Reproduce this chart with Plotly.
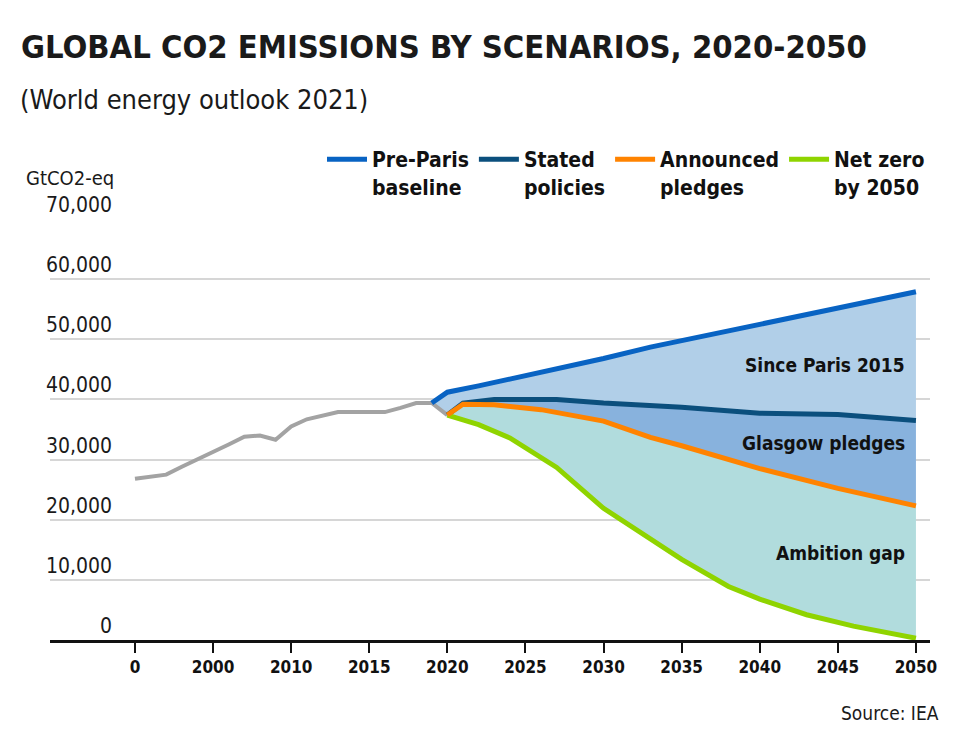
import plotly.graph_objects as go

# ---------------- data ----------------
hist_years = list(range(2000, 2021))
hist_vals = [26800, 27100, 27500, 28800, 30000, 31200, 32500, 33800, 34000, 33300,
             35500, 36700, 37300, 37900, 37900, 37900, 37900, 38600, 39400, 39400, 37400]

prep_years = [2019, 2020, 2022, 2025, 2028, 2030, 2033, 2035, 2040, 2045, 2050]
prep_vals = [39400, 41200, 42250, 43900, 45500, 46800, 48700, 49800, 52500, 55200, 57900]

stated_years = [2020, 2021, 2023, 2027, 2030, 2035, 2040, 2045, 2050]
stated_vals = [37400, 39400, 40000, 40000, 39400, 38700, 37700, 37500, 36500]

announced_years = [2020, 2021, 2023, 2026, 2030, 2033, 2035, 2040, 2045, 2050]
announced_vals = [37400, 39200, 39100, 38300, 36400, 33700, 32300, 28500, 25200, 22300]

netzero_years = [2020, 2022, 2024, 2027, 2030, 2035, 2038, 2040, 2043, 2046, 2050]
netzero_vals = [37400, 35800, 33600, 28700, 21900, 13400, 8900, 6800, 4200, 2300, 300]

x_tickvals = [2000, 2005, 2010, 2015, 2020, 2025, 2030, 2035, 2040, 2045, 2050]
x_ticktext = ["0", "2000", "2010", "2015", "2020", "2025", "2030", "2035", "2040", "2045", "2050"]
y_tickvals = [0, 10000, 20000, 30000, 40000, 50000, 60000, 70000]

series_names = ["Pre-Paris<br>baseline", "Stated<br>policies", "Announced<br>pledges", "Net zero<br>by 2050"]
area_labels = ["Since Paris 2015", "Glasgow pledges", "Ambition gap"]

# ---------------- style ----------------
FONT = "DejaVu Sans Condensed, Roboto, sans-serif"
C_PREP = "#0863c3"
C_STATED = "#0b4f7d"
C_ANN = "#ff8300"
C_NZ = "#8fd400"
C_HIST = "#a3a3a3"
F_SINCE = "#b1cfe8"
F_GLAS = "#88b2dd"
F_AMB = "#b1dcdd"

fig = go.Figure()

# fills (invisible boundary lines)
def band(lx, ly, ux, uy, color):
    fig.add_trace(go.Scatter(x=lx, y=ly, mode="lines", line=dict(width=0),
                             showlegend=False, hoverinfo="skip"))
    fig.add_trace(go.Scatter(x=ux, y=uy, mode="lines", line=dict(width=0),
                             fill="tonexty", fillcolor=color,
                             showlegend=False, hoverinfo="skip"))

band(netzero_years, netzero_vals, announced_years, announced_vals, F_AMB)
band(announced_years, announced_vals, stated_years, stated_vals, F_GLAS)
band(stated_years, stated_vals, prep_years, prep_vals, F_SINCE)

# historical line
fig.add_trace(go.Scatter(x=hist_years, y=hist_vals, mode="lines",
                         line=dict(color=C_HIST, width=4), showlegend=False))

# scenario lines (drawing order: stated, net zero, announced, pre-paris)
lines = [
    (stated_years, stated_vals, C_STATED, series_names[1], 2),
    (netzero_years, netzero_vals, C_NZ, series_names[3], 4),
    (announced_years, announced_vals, C_ANN, series_names[2], 3),
    (prep_years, prep_vals, C_PREP, series_names[0], 1),
]
for xs, ys, c, n, rank in lines:
    fig.add_trace(go.Scatter(x=xs, y=ys, mode="lines", name=n, legendrank=rank,
                             line=dict(color=c, width=5)))

# ---------------- layout ----------------
L, R, T, B = 50, 48, 219, 105
W, H = 978, 745
pw, ph = W - L - R, H - T - B

def px_x(px):
    return (px - L) / pw

def px_y(py):
    return (H - B - py) / ph

ann = []
for v in y_tickvals:
    ann.append(dict(x=px_x(114), xref="paper", y=v, yref="y", text=f"{v:,}",
                    xanchor="right", yanchor="middle", showarrow=False, yshift=14,
                    font=dict(family=FONT, size=21, color="#1a1a1a")))

ann.append(dict(x=px_x(19), xref="paper", y=px_y(47), yref="paper",
                text="GLOBAL CO2 EMISSIONS BY SCENARIOS, 2020-2050",
                xanchor="left", yanchor="middle", showarrow=False,
                font=dict(family=FONT, size=32.5, color="#1a1a1a", weight=700)))
ann.append(dict(x=px_x(18), xref="paper", y=px_y(100), yref="paper",
                text="(World energy outlook 2021)",
                xanchor="left", yanchor="middle", showarrow=False,
                font=dict(family=FONT, size=27, color="#1a1a1a")))
ann.append(dict(x=px_x(24), xref="paper", y=px_y(178), yref="paper",
                text="GtCO2-eq", xanchor="left", yanchor="middle", showarrow=False,
                font=dict(family=FONT, size=20, color="#1a1a1a")))
ann.append(dict(x=px_x(941), xref="paper", y=px_y(713), yref="paper",
                text="Source: IEA", xanchor="right", yanchor="middle", showarrow=False,
                font=dict(family=FONT, size=19, color="#1a1a1a")))

for txt, py in zip(area_labels, [365, 443, 553]):
    ann.append(dict(x=px_x(907), xref="paper", y=px_y(py), yref="paper",
                    text=txt, xanchor="right", yanchor="middle", showarrow=False,
                    font=dict(family=FONT, size=19, color="#111111", weight=700)))

fig.update_layout(
    width=W, height=H,
    margin=dict(l=L, r=R, t=T, b=B, pad=0),
    paper_bgcolor="white", plot_bgcolor="white",
    font=dict(family=FONT, color="#1a1a1a"),
    showlegend=True,
    legend=dict(orientation="h", x=1.0, xanchor="right", y=px_y(139), yanchor="top",
                valign="top", traceorder="normal",
                font=dict(family=FONT, size=21, color="#111111", weight=700),
                itemwidth=40, bgcolor="rgba(0,0,0,0)"),
    xaxis=dict(range=[1994.56, 2050.9], tickmode="array", tickvals=x_tickvals,
               ticktext=x_ticktext, showgrid=False, zeroline=False,
               showline=True, linecolor="#111111", linewidth=2.5,
               ticks="outside", ticklen=10, tickwidth=2, tickcolor="#111111",
               tickfont=dict(family=FONT, size=17, color="#111111", weight=700)),
    yaxis=dict(range=[0, 70000], tickmode="array", tickvals=y_tickvals,
               showticklabels=False, showgrid=True, gridcolor="#d6d6d6", gridwidth=1.5,
               zeroline=False, showline=False),
    annotations=ann,
)

fig.write_html("out.html")
